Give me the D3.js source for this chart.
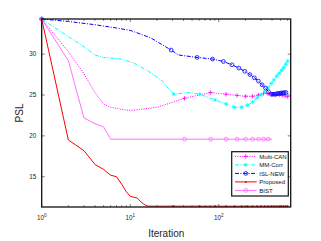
<!DOCTYPE html>
<html>
<head>
<meta charset="utf-8">
<script src="https://cdn.jsdelivr.net/npm/d3@7"></script>
<style>
  body { margin: 0; background: #fff; }
  text { font-family: "Liberation Sans", Arial, sans-serif; }
</style>
</head>
<body>
<div id="chart"></div>
<script>
// DATA
let multiCanIter = [1, 2, 3, 4, 5, 6, 8, 10, 12, 20, 30, 41, 60, 81, 121, 161, 201, 241, 281, 321, 361, 401, 441, 481, 521, 561, 601, 615]
let multiCanPsl = [34.3, 30.3, 27.6, 25.3, 23.9, 23.5, 23.25, 23.1, 23.2, 23.5, 24.1, 24.6, 25.0, 25.3, 25.1, 24.95, 24.85, 24.85, 25.0, 25.2, 25.15, 25.1, 25.0, 25.0, 24.95, 24.9, 24.8, 24.8]
let multiCanMarks = [1, 41, 81, 121, 161, 201, 241, 281, 321, 361, 401, 441, 481, 521, 561, 601]

let mmCorrIter = [1, 2, 3, 4, 5, 8, 11, 15, 22, 31, 45, 61, 91, 121, 151, 181, 211, 241, 271, 301, 331, 361, 391, 421, 451, 481, 511, 541, 571, 601, 615]
let mmCorrPsl = [34.3, 32.15, 30.9, 29.9, 29.6, 29.4, 28.9, 28.1, 26.9, 25.1, 25.3, 25.1, 24.4, 23.9, 23.5, 23.5, 23.75, 24.15, 24.65, 25.0, 25.4, 25.9, 26.4, 26.85, 27.3, 27.65, 28.0, 28.35, 28.75, 29.15, 29.3]
let mmCorrMarks = [1, 31, 61, 91, 121, 151, 181, 211, 241, 271, 301, 331, 361, 391, 421, 451, 481, 511, 541, 571, 601]

let islNewIter = [1, 2, 4, 7, 10, 12, 17, 29, 35, 57, 85, 113, 141, 169, 197, 225, 253, 281, 309, 337, 365, 393, 410, 430, 450, 470, 490, 510, 530, 550, 575]
let islNewPsl = [34.3, 34.0, 33.6, 33.2, 32.9, 32.6, 32.0, 30.5, 29.9, 29.6, 29.4, 29.1, 28.7, 28.3, 27.9, 27.5, 27.1, 26.7, 26.25, 25.85, 25.4, 25.1, 25.1, 25.1, 25.15, 25.2, 25.2, 25.25, 25.25, 25.3, 25.3]
let islNewMarks = [1, 29, 57, 85, 113, 141, 169, 197, 225, 253, 281, 309, 337, 365, 393, 410, 430, 450, 470, 490, 510, 530, 550, 575]

let proposedIter = [1, 2, 3, 4, 5, 6, 7, 8, 9, 10, 11, 12, 13, 14, 15, 16, 31, 61, 91, 121, 151, 181, 211, 241, 271, 301, 331, 361, 391, 421, 451, 481, 511, 541, 571, 601, 615]
let proposedPsl = [34.3, 19.5, 18.2, 16.5, 15.9, 15.2, 15.0, 14.1, 13.2, 12.6, 12.5, 12.4, 12.0, 11.7, 11.5, 11.4, 11.4, 11.4, 11.4, 11.4, 11.4, 11.4, 11.4, 11.4, 11.4, 11.4, 11.4, 11.4, 11.4, 11.4, 11.4, 11.4, 11.4, 11.4, 11.4, 11.4, 11.4]
let proposedMarks = [1, 31, 61, 91, 121, 151, 181, 211, 241, 271, 301, 331, 361, 391, 421, 451, 481, 511, 541, 571, 601]

let bistIter = [1, 2, 3, 4, 5, 6, 41, 81, 121, 161, 201, 241, 281, 321, 361, 400]
let bistPsl = [34.3, 29.2, 22.2, 21.5, 21.1, 19.6, 19.6, 19.6, 19.6, 19.6, 19.6, 19.6, 19.6, 19.6, 19.6, 19.6]
let bistMarks = [1, 41, 81, 121, 161, 201, 241, 281, 321, 361]

let xMajor = [1, 10, 100]
let xMinor = [2, 3, 4, 5, 6, 7, 8, 9, 20, 30, 40, 50, 60, 70, 80, 90, 200, 300, 400, 500, 600]
let yTicks = [15, 20, 25, 30]

let series = [
  { name: 'Multi-CAN', iter: multiCanIter, psl: multiCanPsl, marks: multiCanMarks, color: '#ff00ff', dash: '1,1.4', marker: 'plus' },
  { name: 'MM-Corr', iter: mmCorrIter, psl: mmCorrPsl, marks: mmCorrMarks, color: '#00ffff', dash: '4,1.5,1,1.5', marker: 'star' },
  { name: 'ISL-NEW', iter: islNewIter, psl: islNewPsl, marks: islNewMarks, color: '#0000ff', dash: '4,1.5,1,1.5', marker: 'circle' },
  { name: 'Proposed', iter: proposedIter, psl: proposedPsl, marks: proposedMarks, color: '#ff0000', dash: null, marker: 'dot' },
  { name: 'BIST', iter: bistIter, psl: bistPsl, marks: bistMarks, color: '#ff70ff', dash: null, marker: 'circle' }
]

// CHART SETUP
let width = 321, height = 241
let mLeft = 41.7, mRight = 290.7, mTop = 19, mBottom = 207

let svg = d3.select('#chart').append('svg')
  .attr('width', width).attr('height', height)

let x = d3.scaleLog().domain([1, 650]).range([mLeft, mRight])
let y = d3.scaleLinear().domain([11.3, 34.3]).range([mBottom, mTop])

// ticks (inward, both sides)
let tickG = svg.append('g').attr('stroke', '#222').attr('stroke-width', 0.6)
xMajor.concat(xMinor).forEach(function (v) {
  let len = xMajor.indexOf(v) >= 0 ? 3 : 1.8
  tickG.append('line').attr('x1', x(v)).attr('x2', x(v)).attr('y1', mBottom).attr('y2', mBottom - len)
  tickG.append('line').attr('x1', x(v)).attr('x2', x(v)).attr('y1', mTop).attr('y2', mTop + len)
})
yTicks.forEach(function (v) {
  tickG.append('line').attr('x1', mLeft).attr('x2', mLeft + 3).attr('y1', y(v)).attr('y2', y(v))
  tickG.append('line').attr('x1', mRight).attr('x2', mRight - 3).attr('y1', y(v)).attr('y2', y(v))
})

// lines
let line = d3.line()
  .x(function (d) { return x(d[0]) })
  .y(function (d) { return y(d[1]) })

function drawMarker(g, type, cx, cy, color) {
  if (type === 'plus') {
    g.append('path').attr('d', 'M' + (cx - 2.2) + ',' + cy + 'h4.4M' + cx + ',' + (cy - 2.2) + 'v4.4')
      .attr('stroke', color).attr('stroke-width', 0.8).attr('fill', 'none')
  } else if (type === 'star') {
    let r = 2
    g.append('path').attr('d',
      'M' + (cx - r) + ',' + cy + 'h' + (2 * r) +
      'M' + cx + ',' + (cy - r) + 'v' + (2 * r) +
      'M' + (cx - r * 0.7) + ',' + (cy - r * 0.7) + 'l' + (1.4 * r) + ',' + (1.4 * r) +
      'M' + (cx - r * 0.7) + ',' + (cy + r * 0.7) + 'l' + (1.4 * r) + ',' + (-1.4 * r))
      .attr('stroke', color).attr('stroke-width', 0.8).attr('fill', 'none')
  } else if (type === 'circle') {
    g.append('circle').attr('cx', cx).attr('cy', cy).attr('r', 1.9)
      .attr('stroke', color).attr('stroke-width', 0.8).attr('fill', 'none')
  } else {
    g.append('circle').attr('cx', cx).attr('cy', cy).attr('r', 1).attr('fill', color)
  }
}

series.forEach(function (s) {
  let pts = s.iter.map(function (v, i) { return [v, s.psl[i]] })
  let g = svg.append('g')
  g.append('path').datum(pts)
    .attr('d', line)
    .attr('fill', 'none')
    .attr('stroke', s.color)
    .attr('stroke-width', 1)
    .attr('stroke-dasharray', s.dash)
  s.marks.forEach(function (m) {
    let i = s.iter.indexOf(m)
    drawMarker(g, s.marker, x(s.iter[i]), y(s.psl[i]), s.color)
  })
})

// axes box
svg.append('rect')
  .attr('x', mLeft).attr('y', mTop)
  .attr('width', mRight - mLeft).attr('height', mBottom - mTop)
  .attr('fill', 'none').attr('stroke', '#111').attr('stroke-width', 1.3)

// tick labels
xMajor.forEach(function (v) {
  let t = svg.append('text')
    .attr('x', x(v)).attr('y', 219.5)
    .attr('text-anchor', 'middle')
    .attr('font-size', 6.3).attr('fill', '#262626')
  t.append('tspan').text('10')
  t.append('tspan').attr('dy', -2.6).attr('font-size', 4.6).text(Math.round(Math.log10(v)))
})
yTicks.forEach(function (v) {
  svg.append('text')
    .attr('x', 36.3).attr('y', y(v) + 2.2)
    .attr('text-anchor', 'end')
    .attr('font-size', 6.3).attr('fill', '#262626')
    .text(v)
})

// axis labels
svg.append('text')
  .attr('x', (mLeft + mRight) / 2).attr('y', 237)
  .attr('text-anchor', 'middle').attr('font-size', 10).attr('fill', '#262626')
  .text('Iteration')
svg.append('text')
  .attr('transform', 'translate(23,' + ((mTop + mBottom) / 2) + ') rotate(-90)')
  .attr('text-anchor', 'middle').attr('font-size', 10).attr('fill', '#262626')
  .text('PSL')

// legend
let lg = svg.append('g')
lg.append('rect')
  .attr('x', 231.7).attr('y', 151.7).attr('width', 56.6).attr('height', 44.3)
  .attr('fill', '#fff').attr('stroke', '#111').attr('stroke-width', 1.2)
series.forEach(function (s, i) {
  let ly = 156.4 + i * 8.5
  lg.append('line')
    .attr('x1', 235).attr('x2', 256.7).attr('y1', ly).attr('y2', ly)
    .attr('stroke', s.color).attr('stroke-width', 1)
    .attr('stroke-dasharray', s.dash)
  drawMarker(lg, s.marker, 245.8, ly, s.color)
  lg.append('text')
    .attr('x', 259.3).attr('y', ly + 2.1)
    .attr('font-size', 6).attr('fill', '#111')
    .text(s.name)
})
</script>
</body>
</html>
